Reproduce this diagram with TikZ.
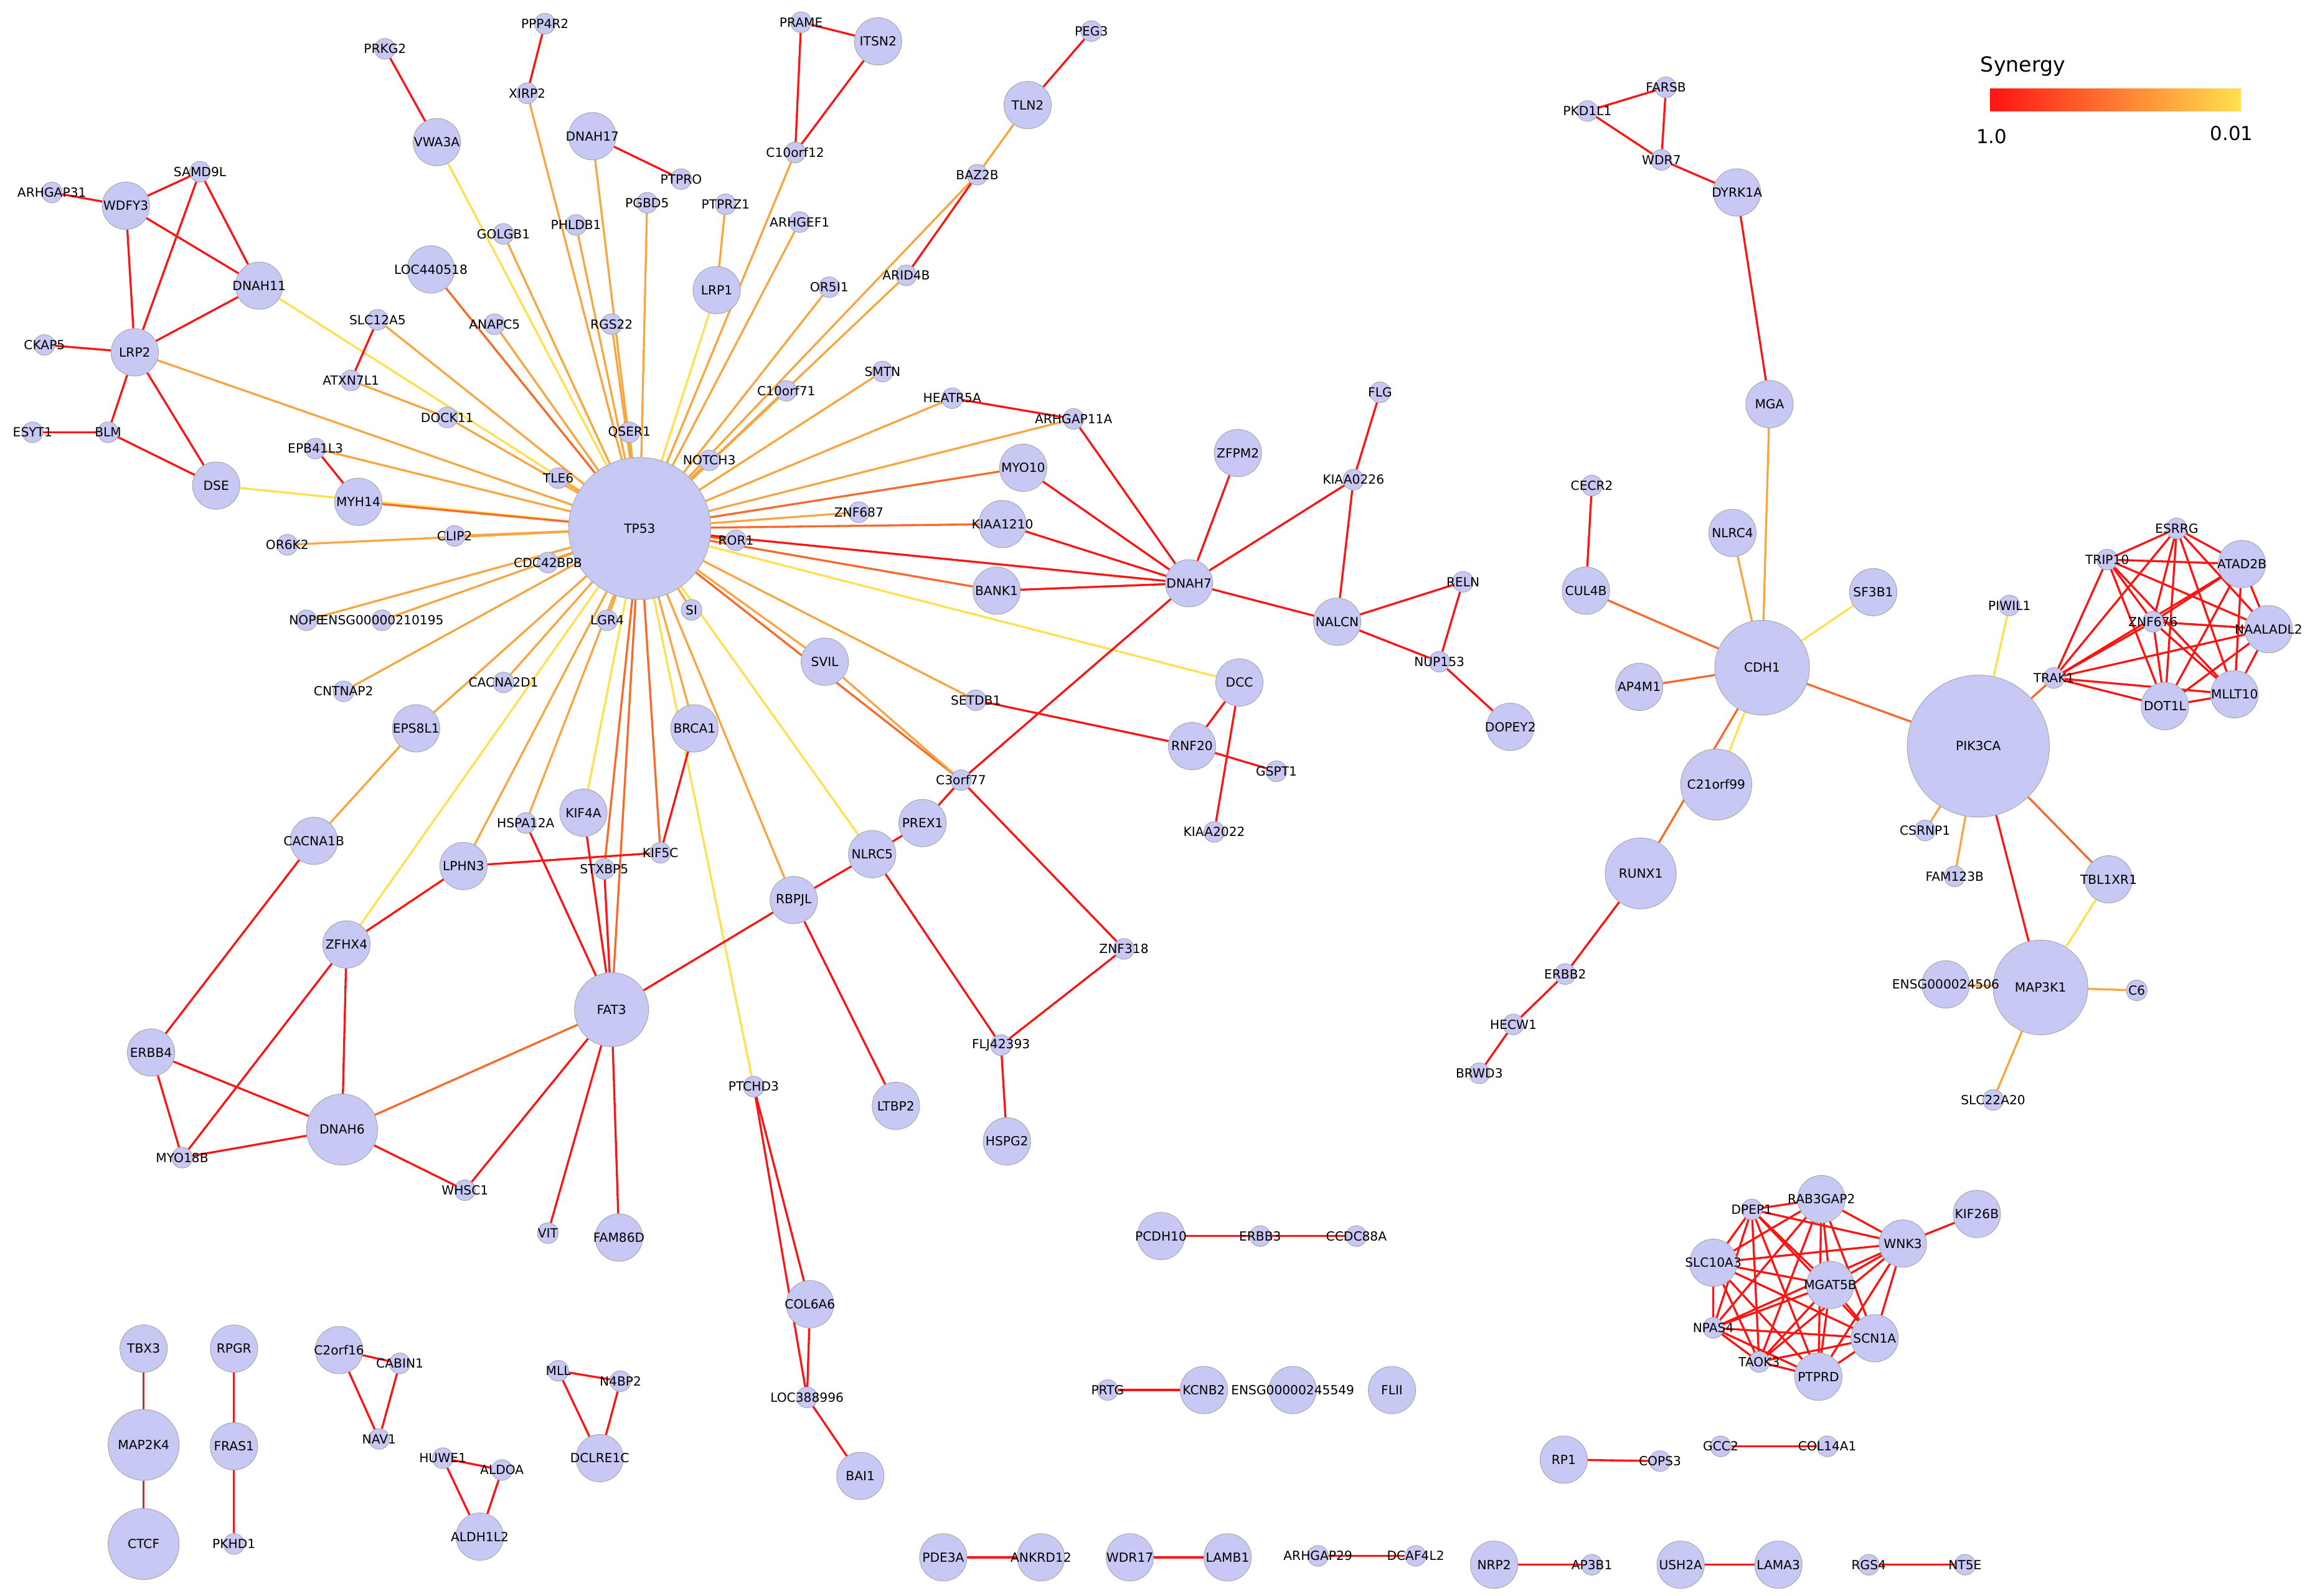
\documentclass[tikz,border=0pt]{standalone}
\usepackage{fontspec}
\setmainfont{DejaVu Sans}
\pgfdeclarelayer{bg}\pgfdeclarelayer{fg}\pgfdeclarelayer{bb}
\pgfsetlayers{bb,bg,main,fg}
\definecolor{er}{HTML}{FF1414}
\definecolor{eo}{HTML}{F9A640}
\definecolor{ea}{HTML}{F76A2A}
\definecolor{ey}{HTML}{FFE050}
\definecolor{nf}{HTML}{C8C8F4}
\tikzset{nd/.style={circle,fill=nf,draw=gray!70,line width=0.4pt,inner sep=0pt},
 lb/.style={font=\fontsize{8.5}{9}\selectfont,inner sep=0pt},
 ed/.style={line width=1.4pt}}
\newcommand\N[5]{\node[nd,minimum size=#4*2pt] (#1) at (#2,#3) {};
 \begin{pgfonlayer}{fg}\node[lb] at (#1) {#5};\end{pgfonlayer}}
\newcommand\E[2]{\begin{pgfonlayer}{bg}\foreach \p/\q in {#2} \draw[ed,#1] (\p)--(\q);\end{pgfonlayer}}
\newcommand\K[2]{\begin{pgfonlayer}{bg}\foreach \p [count=\i] in {#2}{\foreach \q [count=\j] in {#2}{\ifnum\i<\j \draw[ed,#1] (\p)--(\q);\fi}}\end{pgfonlayer}}
\begin{document}
\begin{tikzpicture}[x=1pt,y=-1pt]
\begin{pgfonlayer}{bb}\fill[white] (0,0) rectangle (1560,1078);\end{pgfonlayer}
\useasboundingbox (0,0) rectangle (1560,1078);
\N{TP53}{432}{357}{48}{TP53}
\N{PRKG2}{260}{33}{7}{PRKG2}
\N{VWA3A}{295}{96}{16}{VWA3A}
\N{PPP4R2}{368}{16}{7}{PPP4R2}
\N{XIRP2}{356}{63}{7}{XIRP2}
\N{DNAH17}{400}{92}{16}{DNAH17}
\N{PTPRO}{460}{121}{7}{PTPRO}
\N{PGBD5}{437}{137}{7}{PGBD5}
\N{PTPRZ1}{490}{138}{7}{PTPRZ1}
\N{PRAME}{541}{15}{7}{PRAME}
\N{ITSN2}{593}{28}{16}{ITSN2}
\N{PEG3}{737}{21}{7}{PEG3}
\N{TLN2}{694}{71}{16}{TLN2}
\N{C10orf12}{537}{103}{7}{C10orf12}
\N{BAZ2B}{660}{118}{7}{BAZ2B}
\N{ARHGEF1}{540}{150}{7}{ARHGEF1}
\N{GOLGB1}{340}{158}{7}{GOLGB1}
\N{PHLDB1}{389}{152}{7}{PHLDB1}
\N{LOC440518}{291}{182}{16}{LOC440518}
\N{LRP1}{484}{196}{16}{LRP1}
\N{OR5I1}{560}{194}{7}{OR5I1}
\N{ARID4B}{612}{186}{7}{ARID4B}
\N{SLC12A5}{255}{216}{7}{SLC12A5}
\N{ANAPC5}{334}{219}{7}{ANAPC5}
\N{RGS22}{413}{219}{7}{RGS22}
\N{ATXN7L1}{237}{257}{7}{ATXN7L1}
\N{C10orf71}{531}{264}{7}{C10orf71}
\N{SMTN}{596}{251}{7}{SMTN}
\N{DOCK11}{302}{282}{7}{DOCK11}
\N{HEATR5A}{643}{269}{7}{HEATR5A}
\N{ARHGAP11A}{725}{283}{7}{ARHGAP11A}
\N{QSER1}{425}{292}{7}{QSER1}
\N{NOTCH3}{479}{311}{7}{NOTCH3}
\N{TLE6}{377}{323}{7}{TLE6}
\N{EPB41L3}{213}{303}{7}{EPB41L3}
\N{MYH14}{242}{339}{16}{MYH14}
\N{MYO10}{691}{316}{16}{MYO10}
\N{ZFPM2}{836}{306}{16}{ZFPM2}
\N{FLG}{932}{265}{7}{FLG}
\N{KIAA0226}{914}{324}{7}{KIAA0226}
\N{ZNF687}{580}{346}{7}{ZNF687}
\N{KIAA1210}{677}{354}{16}{KIAA1210}
\N{ROR1}{497}{365}{7}{ROR1}
\N{CLIP2}{307}{362}{7}{CLIP2}
\N{CDC42BPB}{370}{380}{7}{CDC42BPB}
\N{OR6K2}{194}{368}{7}{OR6K2}
\N{BANK1}{673}{399}{16}{BANK1}
\N{DNAH7}{803}{394}{16}{DNAH7}
\N{NALCN}{903}{420}{16}{NALCN}
\N{RELN}{988}{393}{7}{RELN}
\N{NUP153}{972}{447}{7}{NUP153}
\N{DOPEY2}{1020}{491}{16}{DOPEY2}
\N{NOPE}{207}{419}{7}{NOPE}
\N{ENSGa}{258}{419}{7}{ENSG00000210195}
\N{LGR4}{410}{419}{7}{LGR4}
\N{SI}{467}{412}{7}{SI}
\N{SVIL}{557}{447}{16}{SVIL}
\N{DCC}{837}{461}{16}{DCC}
\N{SETDB1}{659}{473}{7}{SETDB1}
\N{RNF20}{805}{504}{16}{RNF20}
\N{GSPT1}{862}{521}{7}{GSPT1}
\N{CNTNAP2}{232}{467}{7}{CNTNAP2}
\N{CACNA2D1}{340}{461}{7}{CACNA2D1}
\N{EPS8L1}{281}{492}{16}{EPS8L1}
\N{BRCA1}{469}{492}{16}{BRCA1}
\N{C3orf77}{649}{527}{7}{C3orf77}
\N{KIAA2022}{820}{562}{7}{KIAA2022}
\N{KIF4A}{394}{549}{16}{KIF4A}
\N{HSPA12A}{355}{556}{7}{HSPA12A}
\N{KIF5C}{446}{576}{7}{KIF5C}
\N{STXBP5}{408}{587}{7}{STXBP5}
\N{PREX1}{623}{556}{16}{PREX1}
\N{NLRC5}{589}{577}{16}{NLRC5}
\N{CACNA1B}{212}{568}{16}{CACNA1B}
\N{LPHN3}{313}{585}{16}{LPHN3}
\N{RBPJL}{536}{608}{16}{RBPJL}
\N{ZNF318}{759}{641}{7}{ZNF318}
\N{ZFHX4}{234}{638}{16}{ZFHX4}
\N{FAT3}{413}{682}{25}{FAT3}
\N{FLJ42393}{676}{706}{7}{FLJ42393}
\N{ERBB4}{102}{711}{16}{ERBB4}
\N{PTCHD3}{509}{734}{7}{PTCHD3}
\N{LTBP2}{605}{747}{16}{LTBP2}
\N{HSPG2}{680}{771}{16}{HSPG2}
\N{DNAH6}{231}{763}{24}{DNAH6}
\N{MYO18B}{123}{782}{7}{MYO18B}
\N{WHSC1}{314}{804}{7}{WHSC1}
\N{VIT}{370}{833}{7}{VIT}
\N{FAM86D}{418}{836}{16}{FAM86D}
\N{COL6A6}{547}{881}{16}{COL6A6}
\N{LOC388996}{545}{944}{7}{LOC388996}
\N{BAI1}{581}{997}{16}{BAI1}
\N{SAMD9L}{135}{116}{7}{SAMD9L}
\N{ARHGAP31}{35}{130}{7}{ARHGAP31}
\N{WDFY3}{85}{139}{16}{WDFY3}
\N{DNAH11}{175}{193}{16}{DNAH11}
\N{CKAP5}{30}{233}{7}{CKAP5}
\N{LRP2}{91}{238}{16}{LRP2}
\N{ESYT1}{22}{292}{7}{ESYT1}
\N{BLM}{73}{292}{7}{BLM}
\N{DSE}{146}{328}{16}{DSE}
\N{PKD1L1}{1072}{75}{7}{PKD1L1}
\N{FARSB}{1125}{59}{7}{FARSB}
\N{WDR7}{1122}{108}{7}{WDR7}
\N{DYRK1A}{1173}{130}{16}{DYRK1A}
\N{MGA}{1195}{273}{16}{MGA}
\N{CECR2}{1075}{328}{7}{CECR2}
\N{NLRC4}{1170}{360}{16}{NLRC4}
\N{CUL4B}{1071}{399}{16}{CUL4B}
\N{SF3B1}{1265}{400}{16}{SF3B1}
\N{CDH1}{1190}{451}{32}{CDH1}
\N{AP4M1}{1107}{464}{16}{AP4M1}
\N{PIK3CA}{1336}{504}{48}{PIK3CA}
\N{C21orf99}{1159}{530}{24}{C21orf99}
\N{CSRNP1}{1300}{561}{7}{CSRNP1}
\N{RUNX1}{1108}{590}{24}{RUNX1}
\N{FAM123B}{1320}{592}{7}{FAM123B}
\N{TBL1XR1}{1424}{594}{16}{TBL1XR1}
\N{ERBB2}{1057}{658}{7}{ERBB2}
\N{ENSGb}{1314}{665}{16}{ENSG000024506}
\N{MAP3K1}{1378}{667}{32}{MAP3K1}
\N{C6}{1443}{669}{7}{C6}
\N{HECW1}{1022}{692}{7}{HECW1}
\N{BRWD3}{999}{725}{7}{BRWD3}
\N{SLC22A20}{1346}{743}{7}{SLC22A20}
\N{ESRRG}{1470}{357}{7}{ESRRG}
\N{TRIP10}{1423}{378}{7}{TRIP10}
\N{ATAD2B}{1514}{381}{16}{ATAD2B}
\N{ZNF676}{1454}{420}{7}{ZNF676}
\N{NAALADL2}{1532}{425}{16}{NAALADL2}
\N{PIWIL1}{1357}{409}{7}{PIWIL1}
\N{TRAK1}{1387}{458}{7}{TRAK1}
\N{DOT1L}{1462}{477}{16}{DOT1L}
\N{MLLT10}{1509}{469}{16}{MLLT10}
\N{PCDH10}{784}{835}{16}{PCDH10}
\N{ERBB3}{851}{835}{7}{ERBB3}
\N{CCDC88A}{916}{835}{7}{CCDC88A}
\N{PRTG}{748}{939}{7}{PRTG}
\N{KCNB2}{813}{939}{16}{KCNB2}
\N{ENSGc}{873}{939}{16}{ENSG00000245549}
\N{FLII}{940}{939}{16}{FLII}
\N{RP1}{1056}{986}{16}{RP1}
\N{COPS3}{1121}{987}{7}{COPS3}
\N{GCC2}{1162}{977}{7}{GCC2}
\N{COL14A1}{1234}{977}{7}{COL14A1}
\N{PDE3A}{637}{1052}{16}{PDE3A}
\N{ANKRD12}{703}{1052}{16}{ANKRD12}
\N{WDR17}{763}{1052}{16}{WDR17}
\N{LAMB1}{829}{1052}{16}{LAMB1}
\N{ARHGAP29}{890}{1051}{7}{ARHGAP29}
\N{DCAF4L2}{956}{1051}{7}{DCAF4L2}
\N{NRP2}{1009}{1057}{16}{NRP2}
\N{AP3B1}{1075}{1057}{7}{AP3B1}
\N{USH2A}{1135}{1057}{16}{USH2A}
\N{LAMA3}{1201}{1057}{16}{LAMA3}
\N{RGS4}{1262}{1057}{7}{RGS4}
\N{NT5E}{1327}{1057}{7}{NT5E}
\N{TBX3}{97}{911}{16}{TBX3}
\N{MAP2K4}{97}{976}{24}{MAP2K4}
\N{CTCF}{97}{1043}{24}{CTCF}
\N{RPGR}{158}{911}{16}{RPGR}
\N{FRAS1}{158}{977}{16}{FRAS1}
\N{PKHD1}{158}{1043}{7}{PKHD1}
\N{C2orf16}{229}{912}{16}{C2orf16}
\N{CABIN1}{270}{921}{7}{CABIN1}
\N{NAV1}{256}{972}{7}{NAV1}
\N{HUWE1}{299}{985}{7}{HUWE1}
\N{ALDOA}{339}{993}{7}{ALDOA}
\N{ALDH1L2}{324}{1038}{16}{ALDH1L2}
\N{MLL}{377}{926}{7}{MLL}
\N{N4BP2}{419}{933}{7}{N4BP2}
\N{DCLRE1C}{405}{985}{16}{DCLRE1C}
\N{DPEP1}{1183}{817}{7}{DPEP1}
\N{RAB3GAP2}{1230}{810}{16}{RAB3GAP2}
\N{WNK3}{1285}{840}{16}{WNK3}
\N{KIF26B}{1335}{820}{16}{KIF26B}
\N{SLC10A3}{1157}{853}{16}{SLC10A3}
\N{MGAT5B}{1236}{868}{16}{MGAT5B}
\N{NPAS4}{1157}{897}{7}{NPAS4}
\N{SCN1A}{1266}{904}{16}{SCN1A}
\N{TAOK3}{1188}{920}{7}{TAOK3}
\N{PTPRD}{1228}{930}{16}{PTPRD}
% TP53 spokes
\E{ey}{TP53/VWA3A,TP53/LRP1,TP53/DNAH11,TP53/DSE,TP53/DCC,TP53/NLRC5,TP53/PTCHD3,TP53/ZFHX4,TP53/KIF4A}
\E{eo}{TP53/XIRP2,TP53/GOLGB1,TP53/PHLDB1,TP53/DNAH17,TP53/PGBD5,TP53/RGS22,TP53/QSER1,PTPRZ1/LRP1,TP53/C10orf12,TP53/ARHGEF1,TP53/BAZ2B,TP53/ARID4B,TP53/OR5I1,TP53/C10orf71,TP53/SMTN,TP53/HEATR5A,TP53/ARHGAP11A,TP53/NOTCH3,TP53/ANAPC5,TP53/SLC12A5,TP53/DOCK11,TP53/TLE6,TP53/EPB41L3,TP53/CLIP2,TP53/CDC42BPB,TP53/OR6K2,TP53/NOPE,TP53/ENSGa,TP53/CNTNAP2,TP53/CACNA2D1,TP53/EPS8L1,TP53/LGR4,TP53/SI,TP53/SVIL,TP53/SETDB1,TP53/BRCA1,TP53/HSPA12A,TP53/LPHN3,TP53/LRP2,TP53/RBPJL,TP53/ZNF687}
\E{ea}{TP53/LOC440518,TP53/MYH14,TP53/KIF5C,TP53/STXBP5,TP53/FAT3,TP53/C3orf77,TP53/MYO10,TP53/KIAA1210,TP53/BANK1,TP53/ROR1}
\E{er}{TP53/DNAH7}
\E{er}{PRKG2/VWA3A,PPP4R2/XIRP2,DNAH17/PTPRO,PRAME/ITSN2,PRAME/C10orf12,ITSN2/C10orf12,PEG3/TLN2,BAZ2B/ARID4B,SLC12A5/ATXN7L1,EPB41L3/MYH14,HEATR5A/ARHGAP11A,
SAMD9L/WDFY3,SAMD9L/LRP2,SAMD9L/DNAH11,ARHGAP31/WDFY3,WDFY3/DNAH11,WDFY3/LRP2,CKAP5/LRP2,LRP2/DNAH11,LRP2/BLM,LRP2/DSE,ESYT1/BLM,BLM/DSE,
ARHGAP11A/DNAH7,ZFPM2/DNAH7,MYO10/DNAH7,KIAA1210/DNAH7,BANK1/DNAH7,DNAH7/KIAA0226,DNAH7/NALCN,DNAH7/C3orf77,FLG/KIAA0226,KIAA0226/NALCN,NALCN/RELN,NALCN/NUP153,RELN/NUP153,NUP153/DOPEY2,
SETDB1/RNF20,DCC/RNF20,RNF20/GSPT1,DCC/KIAA2022,C3orf77/PREX1,C3orf77/ZNF318,ZNF318/FLJ42393,NLRC5/FLJ42393,FLJ42393/HSPG2,NLRC5/PREX1,NLRC5/RBPJL,RBPJL/FAT3,RBPJL/LTBP2,
BRCA1/KIF5C,LPHN3/KIF5C,LPHN3/ZFHX4,HSPA12A/FAT3,FAT3/STXBP5,FAT3/KIF4A,FAT3/WHSC1,FAT3/VIT,FAT3/FAM86D,CACNA1B/ERBB4,ZFHX4/DNAH6,ZFHX4/MYO18B,ERBB4/MYO18B,ERBB4/DNAH6,DNAH6/MYO18B,DNAH6/WHSC1,
PTCHD3/COL6A6,PTCHD3/LOC388996,COL6A6/LOC388996,LOC388996/BAI1,
PKD1L1/FARSB,PKD1L1/WDR7,FARSB/WDR7,WDR7/DYRK1A,DYRK1A/MGA,CECR2/CUL4B,RUNX1/ERBB2,ERBB2/HECW1,HECW1/BRWD3,PIK3CA/MAP3K1,WNK3/KIF26B,
PCDH10/ERBB3,ERBB3/CCDC88A,PRTG/KCNB2,RP1/COPS3,GCC2/COL14A1,PDE3A/ANKRD12,WDR17/LAMB1,ARHGAP29/DCAF4L2,NRP2/AP3B1,USH2A/LAMA3,RGS4/NT5E,
TBX3/MAP2K4,MAP2K4/CTCF,RPGR/FRAS1,FRAS1/PKHD1,C2orf16/CABIN1,C2orf16/NAV1,CABIN1/NAV1,HUWE1/ALDOA,HUWE1/ALDH1L2,ALDOA/ALDH1L2,MLL/N4BP2,MLL/DCLRE1C,N4BP2/DCLRE1C}
\E{eo}{TLN2/BAZ2B,ATXN7L1/DOCK11,CACNA1B/EPS8L1,SVIL/C3orf77,MGA/CDH1,NLRC4/CDH1,PIK3CA/CSRNP1,PIK3CA/FAM123B,MAP3K1/ENSGb,MAP3K1/C6,MAP3K1/SLC22A20}
\E{ea}{FAT3/DNAH6,CUL4B/CDH1,AP4M1/CDH1,CDH1/PIK3CA,CDH1/RUNX1,PIK3CA/TRAK1,PIK3CA/TBL1XR1}
\E{ey}{SF3B1/CDH1,CDH1/C21orf99,PIK3CA/PIWIL1,TBL1XR1/MAP3K1}
\K{er}{ESRRG,TRIP10,ATAD2B,ZNF676,NAALADL2,TRAK1,DOT1L,MLLT10}
\K{er}{DPEP1,RAB3GAP2,WNK3,SLC10A3,MGAT5B,NPAS4,SCN1A,TAOK3,PTPRD}
% legend
\node[font=\fontsize{14}{16}\selectfont,anchor=west] (leg) at (1334,45) {Synergy};
\shade[left color=er,right color=ey] (1344,60) rectangle (1513,75);
\node[font=\fontsize{13}{15}\selectfont] (l1) at (1345,92) {1.0};
\node[font=\fontsize{13}{15}\selectfont] (l2) at (1507,90) {0.01};
\end{tikzpicture}
\end{document}
